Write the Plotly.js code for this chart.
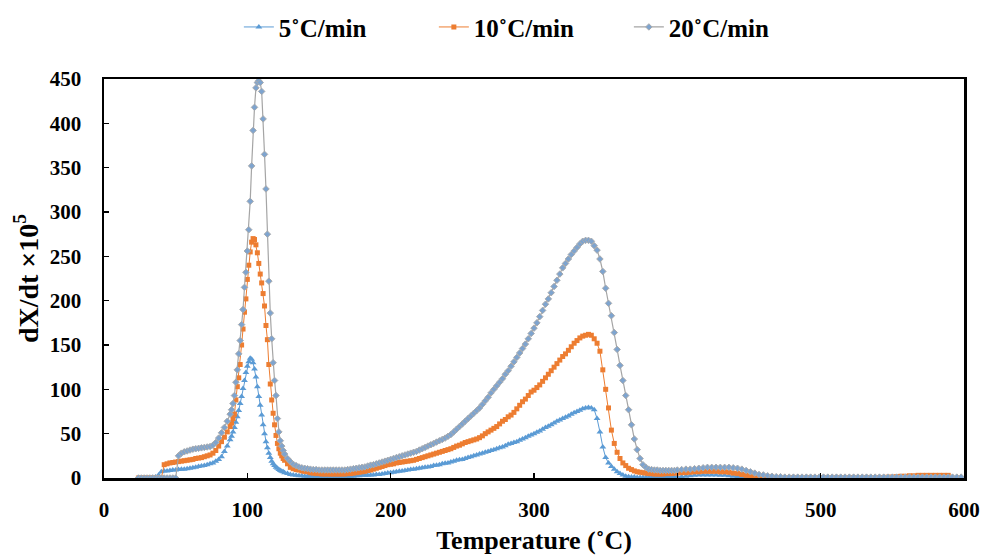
<!DOCTYPE html>
<html>
<head>
<meta charset="utf-8">
<script src="https://cdn.plot.ly/plotly-3.0.1.min.js"></script>
<style>
  html, body { margin: 0; padding: 0; background: #ffffff; }
  #chart { width: 984px; height: 555px; }
</style>
</head>
<body>
<div id="chart"></div>
<script>
// Temperature grid (°C) shared by all three heating rates
const temperature = [
  24,26,28,30,32,34,36,38,40,42,
  44,46,48,50,52,54,56,58,60,62,
  64,66,68,70,72,74,76,78,80,82,
  84,86,88,
  89,90,91,92,93,94,95,96,97,98,
  99,100,101,102,103,104,105,106,107,108,
  109,110,111,112,113,114,115,116,117,118,
  119,120,121,122,123,124,125,126,
  128,130,132,134,136,138,140,142,144,146,
  148,150,152,154,156,158,160,162,164,166,
  168,170,172,174,176,178,180,182,184,186,
  188,190,192,194,196,198,200,202,204,206,
  208,210,212,214,216,218,220,222,224,226,
  228,230,232,234,236,238,240,242,244,246,
  248,250,252,254,256,258,260,262,264,266,
  268,270,272,274,276,278,280,282,284,286,
  288,290,292,294,296,298,300,302,304,306,
  308,310,312,314,316,318,320,322,324,326,
  328,330,332,334,336,338,340,342,344,346,
  348,350,352,354,356,358,360,362,364,366,
  368,370,372,374,376,378,380,382,384,386,
  388,390,392,394,396,398,400,
  403,406,409,412,415,418,421,424,427,430,
  433,436,439,442,445,448,451,454,457,460,
  463,466,469,472,475,478,481,484,487,490,
  493,496,499,502,505,508,511,514,517,520,
  523,526,529,532,535,538,541,544,547,550,
  553,556,559,562,565,568,571,574,577,580,
  583,586,589,592,595,598
];

// dX/dt × 10^5 at 5 °C/min
const rate5 = [
  0,0,0,0,0,0.5,1,3,7,8,
  8,8.5,9,9,9.5,10,10,10.5,11,11.5,
  12,13,13.5,14,15,16,17,19,21,24,
  30,36,43,
  47,52,57,63,69,76,84,92,101,110,
  119,126,131,135,134,130,123,114,103,92,
  82,71,60,50,41,34,28,23,19,16,
  14,12,11,9.5,8.5,7.5,7,6,
  5,4,3.5,3,2.5,2.5,2,2,2,2,
  2,2,2,2,2,2,2,2,2,2,
  2,2,2,2,2.5,2.5,3,3,3,3.5,
  3.5,4,4,4.5,5,5.5,6,6.5,7,7.5,
  8,8.5,9,9.5,10,10.5,11,11.5,12,12.5,
  13,14,14.5,15,16,16.5,17,18,19,20,
  20.5,21,22,23,24,25,26,27,28,29,
  30,31,32,33,34,35,36.5,38,39,40,
  41,42.5,44,45.5,47,48.5,50,51.5,53,55,
  57,58.5,60,62,64,65.5,67,68.5,70,72,
  73.5,75,76.5,78,79,79.5,79,77,67,52,
  35,23,17,13,10,7,5,3.5,2,1.5,
  1,1,0.5,0.5,0.5,0.5,0.5,0.5,0.5,0.5,
  1,1,1,1,1,1,1,
  1.5,2,2.5,3,3.5,3.5,3.5,3.5,3.5,3,
  3,2.5,2,1.5,1,1,0.5,0.5,0.5,0.5,
  0.5,0.5,0.5,0.5,0.5,0.5,0.5,0.5,0.5,0.5,
  0.5,0.5,0.5,0.5,0.5,0.5,0.5,0.5,0.5,0.5,
  0.5,0.5,0.5,0.5,0.5,0.5,0.5,0.5,0.5,0.5,
  0.5,0.5,0.5,0.5,0.5,0.5,0.5,0.5,0.5,0.5,
  0.5,0.5,0.5,null,null,null
];

// dX/dt × 10^5 at 10 °C/min
const rate10 = [
  0,0,0,0,0,0,0,0,0,15,
  16,17,17.5,18,18.5,19,19.5,20,20.5,21,
  22,22.5,23,24,25,26,28,31,36,41,
  46,52,58,
  62,67,72,88,103,113,128,150,168,187,
  202,224,240,255,266,270,269,263,254,242,
  230,220,208,194,172,156,128,106,88,73,
  60,48,39,33,28,25,22,20,
  16,12,10.5,9.5,9,8,7.5,7,6,5.5,
  5,5,4.5,4.5,4.5,4.5,4.5,4.5,4.5,4.5,
  4.5,5,5,5.5,6,6.5,7,7.5,8.5,9,
  10,11,12,13,14,15,15.5,16,17,17.5,
  18,18.5,19,19.5,20,21,22,23,24,25,
  26,27,28,29,30,31,32,33,34.5,36,
  37,38.5,40,41,42,43,44,45.5,47.5,50,
  52,54,56,58,61,64,66,69,71,74,
  78,82,86,89,93,97,99,102,105,109,
  113,117,121,125,129,133,137,140,144,148,
  152,155,158,160,161,162,161,157,152,143,
  122,100,79,54,39,29,22,17,14,11,
  9.5,8,7,6.5,6,5.5,5,5,4.5,4.5,
  4.5,4.5,5,5,5,5.5,5.5,
  6,6,6.5,7,7,7.5,7.5,7.5,7.5,7,
  7,6.5,5.5,5,4,3,2,1.5,1,1,
  0.5,0.5,0.5,0.5,0.5,0.5,0.5,0.5,0.5,0.5,
  0.5,0.5,0.5,0.5,0.5,0.5,0.5,0.5,0.5,0.5,
  0.5,0.5,0.5,0.5,0.5,0.5,0.5,0.5,1,1,
  1.5,2,2,2.5,2.5,3,3,3,3,3,
  3,3,3,null,null,null
];

// dX/dt × 10^5 at 20 °C/min
const rate20 = [
  0,0,0,0,0,0,0,0,0,0,
  0,0,0,0,25,28,29.5,30.5,31.5,32.5,
  33,33.5,34,34.5,35,35.5,37,40,45,51,
  57,64,72,
  77,84,93,108,122,140,155,173,190,215,
  232,256,280,312,352,392,418,440,446,448,
  446,436,405,365,326,275,222,186,157,130,
  110,93,67,52,42,36,31,27,
  22,18.5,15.5,14,12.5,11.5,11,10.5,10,9.5,
  9.5,9,9,9,9,9,9,9,9,9,
  9,9.5,10,10.5,11,11.5,12,12.5,13.5,14.5,
  15,16,17,18,19,20,21,22,23,24,
  25,26,27,28,29,30,31.5,33,34.5,36,
  37.5,39,40.5,42,43.5,45,47,49,52,55,
  58,61,64,67,70,73,76,79,83,87,
  91,96,100,104,108,112,117,121,126,131,
  136,141,146,151,157,163,169,175,182,189,
  196,202,209,216,223,230,237,242,247,252,
  256,260,264,267,268,268,267,262,257,247,
  233,214,197,183,164,145,127,110,93,77,
  60,44,32,22,15,12,10,9.5,9,9,
  8.5,8.5,8.5,8.5,8.5,8.5,9,
  9.5,10,10,10.5,11,11.5,12,12,12,12,
  12,12,11.5,11,10,8.5,7,5.5,4,3.5,
  2.5,2,1.5,1.5,1,1,1,1,1,1,
  1,1,1,1,1,1,1,1,1,1,
  1,1,1,1,1,1,1,1,1,1,
  1,1,1,1,1,1,1,1,1,1,
  1,1,1,1,1,1
];

const seriesNames = ['5˚C/min', '10˚C/min', '20˚C/min'];
const xTicks = [0, 100, 200, 300, 400, 500, 600];
const yTicks = [0, 50, 100, 150, 200, 250, 300, 350, 400, 450];

const serif = 'Liberation Serif, Times New Roman, serif';

const traces = [
  {
    x: temperature, y: rate5, name: seriesNames[0],
    type: 'scatter', mode: 'lines+markers',
    line: { color: '#5B9BD5', width: 1 },
    marker: { symbol: 'triangle-up', size: 6, color: '#5B9BD5' }
  },
  {
    x: temperature, y: rate10, name: seriesNames[1],
    type: 'scatter', mode: 'lines+markers',
    line: { color: '#ED7D31', width: 1 },
    marker: { symbol: 'square', size: 5, color: '#ED7D31' }
  },
  {
    x: temperature, y: rate20, name: seriesNames[2],
    type: 'scatter', mode: 'lines+markers',
    line: { color: '#A5A5A5', width: 1.2 },
    marker: { symbol: 'diamond', size: 5, color: '#7EA4CF',
              line: { color: '#A9ABAE', width: 1 } }
  }
];

const axisCommon = {
  showgrid: false, zeroline: false,
  showline: true, linecolor: '#000000', linewidth: 2.5, mirror: true,
  ticks: 'inside', ticklen: 5, tickwidth: 1.5, tickcolor: '#000000',
  tickfont: { family: serif, size: 21, color: '#000000', weight: 'bold' }
};

const layout = {
  width: 984, height: 555,
  margin: { l: 104, r: 20, t: 79, b: 77, autoexpand: false },
  paper_bgcolor: '#ffffff', plot_bgcolor: '#ffffff',
  showlegend: true,
  legend: {
    orientation: 'h', xref: 'container', yref: 'container',
    x: 0.54, xanchor: 'center', y: 0.951, yanchor: 'middle',
    font: { family: serif, size: 25, color: '#000000', weight: 'bold' },
    entrywidth: 150
  },
  xaxis: Object.assign({}, axisCommon, {
    range: [0, 600], tickvals: xTicks, ticklabelstandoff: 11,
    title: { text: 'Temperature (˚C)', standoff: 18,
             font: { family: serif, size: 26, color: '#000000', weight: 'bold' } }
  }),
  yaxis: Object.assign({}, axisCommon, {
    range: [0, 450], tickvals: yTicks, ticklabelstandoff: 16,
    title: { text: 'dX/dt ×10<sup>5</sup>', standoff: 3,
             font: { family: serif, size: 28, color: '#000000', weight: 'bold' } }
  })
};

Plotly.newPlot('chart', traces, layout, { displayModeBar: false, staticPlot: true });
</script>
</body>
</html>
